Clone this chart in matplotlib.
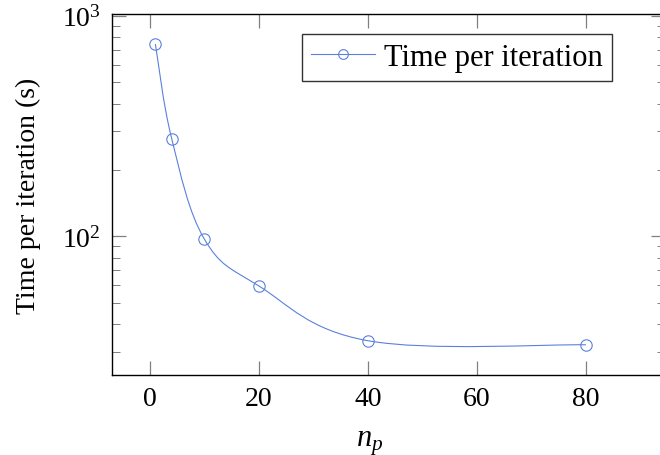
import numpy as np
import matplotlib
matplotlib.use("Agg")
import matplotlib.pyplot as plt
from matplotlib.path import Path
from matplotlib.patches import PathPatch
from matplotlib.lines import Line2D
from matplotlib.ticker import LogLocator, LogFormatterMathtext, NullFormatter

plt.rcParams['font.family'] = ['Liberation Serif', 'DejaVu Serif']
plt.rcParams['mathtext.fontset'] = 'custom'
plt.rcParams['mathtext.rm'] = 'Liberation Serif'
plt.rcParams['mathtext.it'] = 'Liberation Serif:italic'

n_p = [1, 4, 10, 20, 40, 80]
time_per_iter = [745, 277, 97, 59.5, 33.6, 32.2]
series_label = "Time per iteration"
xlabel = "$n_p$"
ylabel = "Time per iteration (s)"
xticks = [0, 20, 40, 60, 80]

color = "#5b80dc"

fig = plt.figure(figsize=(6.6, 4.56), dpi=100)
left = 112.3 / 660
right = 665 / 660
ax = fig.add_axes([left, 0.176, right - left, 0.967 - 0.176])
ax.set_yscale('log')

# smooth curve (TikZ-like smooth) in (x, log y) space
xs = np.array(n_p, float)
ls = np.log10(np.array(time_per_iter, float))
P = np.column_stack([xs, ls])
k = 0.183
verts = [P[0]]
codes = [Path.MOVETO]
n = len(P)
for i in range(n - 1):
    prev = P[i - 1] if i > 0 else P[i]
    nxt2 = P[i + 2] if i + 2 < n else P[i + 1]
    c1 = P[i] + k * (P[i + 1] - prev)
    c2 = P[i + 1] - k * (nxt2 - P[i])
    verts += [c1, c2, P[i + 1]]
    codes += [Path.CURVE4] * 3
verts = np.array(verts)
verts[:, 1] = 10 ** verts[:, 1]
patch = PathPatch(Path(verts, codes), facecolor='none', edgecolor=color, lw=0.8, zorder=2)
ax.add_patch(patch)
ax.plot(n_p, time_per_iter, linestyle='none', marker='o', markersize=8.2,
        markerfacecolor='none', markeredgecolor=color, markeredgewidth=0.8, zorder=3)

ax.set_xlim(-6.9, 94.5)
ax.set_ylim(10 ** 1.372, 10 ** 3.008)
ax.set_xticks(xticks)
ax.xaxis.set_major_formatter(matplotlib.ticker.FuncFormatter(lambda v, p: f"{int(v)}"))
ax.yaxis.set_major_locator(LogLocator(base=10, numticks=10))
ax.yaxis.set_major_formatter(LogFormatterMathtext())
ax.yaxis.set_minor_locator(LogLocator(base=10, subs=np.arange(2, 10), numticks=20))
ax.yaxis.set_minor_formatter(NullFormatter())

ax.tick_params(axis='both', which='both', direction='in', top=True, right=True,
               color='#808080', labelsize=20, pad=8)
ax.tick_params(axis='both', which='major', length=10, width=0.9)
ax.tick_params(axis='y', which='minor', length=6, width=0.7)
for s in ax.spines.values():
    s.set_linewidth(1.0)
    s.set_color('black')
ax.spines['right'].set_visible(False)

ax.set_xlabel(xlabel, fontsize=22, labelpad=12, x=0.466)
ax.set_ylabel(ylabel, fontsize=20, labelpad=15)

handle = Line2D([], [], color=color, lw=0.8, marker='o', markersize=7,
                markerfacecolor='none', markeredgecolor=color, markeredgewidth=0.8)
leg = ax.legend([handle], [series_label], loc='upper right', fontsize=22,
                bbox_to_anchor=(0.904, 0.945), frameon=True, fancybox=False,
                edgecolor='black', borderpad=0.3, handlelength=2.1,
                handletextpad=0.3, borderaxespad=0)
leg.get_frame().set_linewidth(1.0)

fig.savefig("out.png", dpi=100)
